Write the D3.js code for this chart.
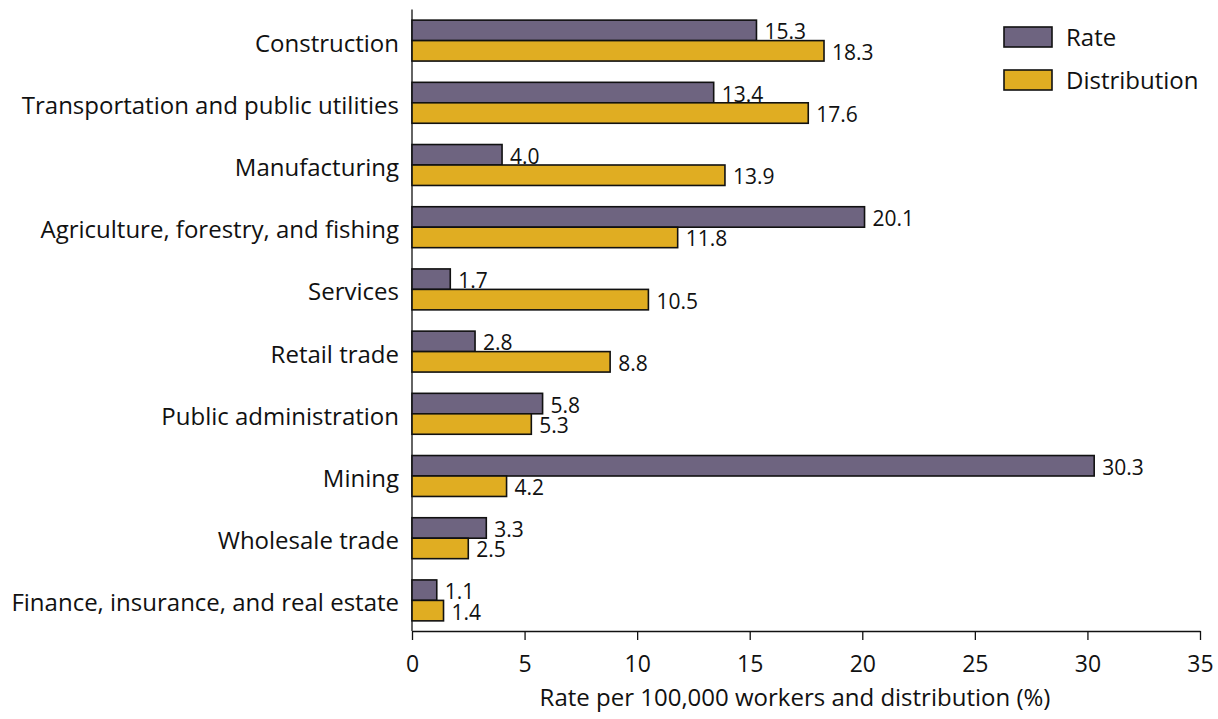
<!DOCTYPE html>
<html>
<head>
<meta charset="utf-8">
<script src="https://cdn.jsdelivr.net/npm/d3@7"></script>
<style>
  body { margin: 0; background: #fff; }
  text { font-family: "Open Sans", "Noto Sans", sans-serif; fill: #111; }
</style>
</head>
<body>
<div id="chart"></div>
<script>
let width = 1218,
    height = 719,
    margin = ({ top: 9.5, right: 18, bottom: 88, left: 412 });

const categories = ["Construction", "Transportation and public utilities", "Manufacturing",
  "Agriculture, forestry, and fishing", "Services", "Retail trade", "Public administration",
  "Mining", "Wholesale trade", "Finance, insurance, and real estate"];
const rate = [15.3, 13.4, 4.0, 20.1, 1.7, 2.8, 5.8, 30.3, 3.3, 1.1];
const distribution = [18.3, 17.6, 13.9, 11.8, 10.5, 8.8, 5.3, 4.2, 2.5, 1.4];
const series = ["Rate", "Distribution"];
const xTicks = [0, 5, 10, 15, 20, 25, 30, 35];
const colors = ["#6e6480", "#e0ad22"];

const svg = d3.select("#chart")
  .append("svg")
  .attr("width", width)
  .attr("height", height);

let x = d3.scaleLinear()
  .domain([0, 35])
  .range([margin.left, 1200]);

let y = d3.scaleBand()
  .domain(categories)
  .range([margin.top, 631.5])
  .paddingInner(0.342)
  .paddingOuter(0.171);

let ySub = d3.scaleBand()
  .domain(series)
  .range([0, y.bandwidth()]);

// x axis
let xAxis = svg.append("g")
  .attr("transform", `translate(0,631)`)
  .call(d3.axisBottom(x)
    .tickValues(xTicks)
    .tickSize(9)
    .tickSizeOuter(0)
    .tickPadding(16));
xAxis.select(".domain").attr("stroke", "#111").attr("stroke-width", 1.3);
xAxis.selectAll(".tick line").attr("stroke", "#111").attr("stroke-width", 1.3);
xAxis.selectAll(".tick text").attr("font-size", 23).attr("fill", "#111")
  .style("font-family", "'Open Sans', sans-serif");

// y axis line
svg.append("line")
  .attr("x1", x(0)).attr("x2", x(0))
  .attr("y1", margin.top).attr("y2", 631)
  .attr("stroke", "#111")
  .attr("stroke-width", 1.3);

// category labels
svg.append("g")
  .selectAll("text")
  .data(categories)
  .join("text")
  .attr("x", 399)
  .attr("y", d => y(d) + y.bandwidth() / 2 + 11)
  .attr("text-anchor", "end")
  .attr("font-size", 24)
  .text(d => d);

// bars
let rows = categories.map((c, i) => ({ cat: c, values: [rate[i], distribution[i]] }));

let groups = svg.append("g")
  .selectAll("g")
  .data(rows)
  .join("g")
  .attr("transform", d => `translate(0,${y(d.cat)})`);

groups.selectAll("rect")
  .data(d => d.values.map((v, j) => ({ s: series[j], v: v, j: j })))
  .join("rect")
  .attr("x", x(0))
  .attr("y", d => ySub(d.s))
  .attr("width", d => x(d.v) - x(0))
  .attr("height", ySub.bandwidth())
  .attr("fill", d => colors[d.j])
  .attr("stroke", "#111")
  .attr("stroke-width", 1.6);

// value labels, a bit smaller so the pair does not collide
groups.selectAll("text")
  .data(d => d.values.map((v, j) => ({ s: series[j], v: v })))
  .join("text")
  .attr("x", d => x(d.v) + 8)
  .attr("y", d => ySub(d.s) + ySub.bandwidth() / 2 + 9)
  .attr("font-size", 21)
  .text(d => d.v.toFixed(1));

// axis title
svg.append("text")
  .attr("x", 795)
  .attr("y", 706)
  .attr("text-anchor", "middle")
  .attr("font-size", 24)
  .text("Rate per 100,000 workers and distribution (%)");

// legend
let legend = svg.append("g")
  .selectAll("g")
  .data(series)
  .join("g")
  .attr("transform", (d, i) => `translate(1004,${27 + i * 43})`);

legend.append("rect")
  .attr("width", 48)
  .attr("height", 20)
  .attr("fill", (d, i) => colors[i])
  .attr("stroke", "#111")
  .attr("stroke-width", 1.6);

legend.append("text")
  .attr("x", 62)
  .attr("y", 19)
  .attr("font-size", 24)
  .text(d => d);
</script>
</body>
</html>
